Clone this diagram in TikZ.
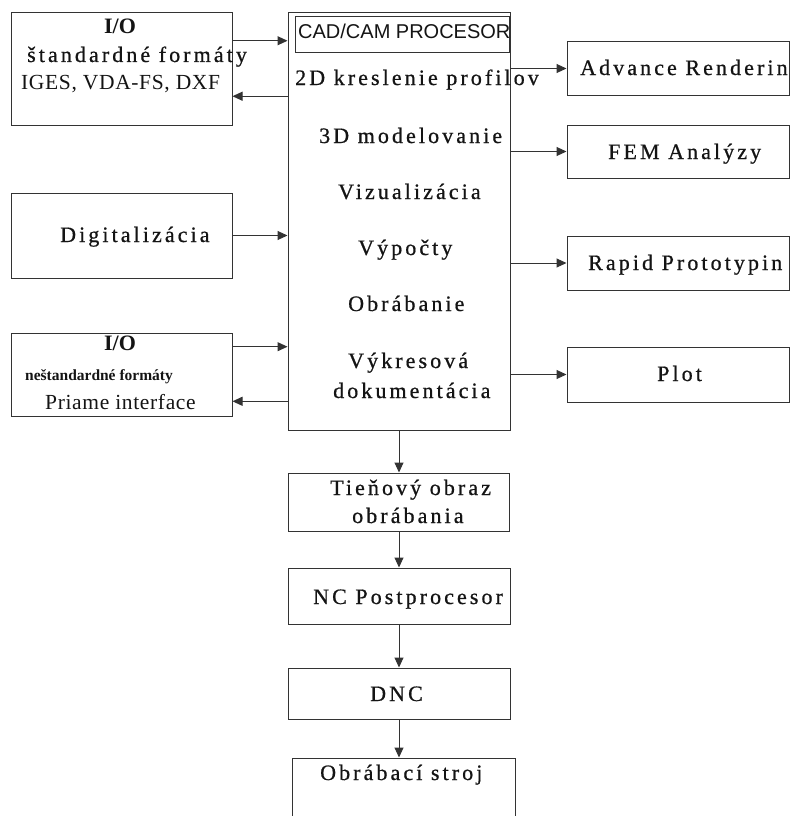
\documentclass[tikz,border=0pt]{standalone}
\usepackage{fontspec}
\setmainfont{Liberation Serif}
\newfontfamily\spc[LetterSpace=14,FakeBold=0.7]{Liberation Serif}
\newfontfamily\thn[LetterSpace=3]{Liberation Serif}
\newfontfamily\sns{Liberation Sans}
\usetikzlibrary{arrows.meta,calc}
\tikzset{
  box/.style={draw=black!80, line width=1pt, inner sep=0pt, fill=none},
  arr/.style={draw=black!80, line width=1pt, -{Triangle[length=10pt,width=9pt]}},
  lbl/.style={inner sep=0pt, text=black!92, anchor=base west, font=\spc\fontsize{22}{26}\selectfont},
  thin/.style={inner sep=0pt, text=black!92, anchor=base west, font=\thn\fontsize{21.5}{25}\selectfont},
}
\begin{document}
\begin{tikzpicture}[x=1pt,y=-1pt]
\useasboundingbox (0,0) rectangle (792,816);
\clip (0,0) rectangle (792,816);
\fill[white] (0,0) rectangle (792,816);
% boxes
\node[box, minimum width=221, minimum height=112] (io1) at (121.5,69) {};
\node[box, minimum width=221, minimum height=85] (dig) at (121.5,235.5) {};
\node[box, minimum width=221, minimum height=83] (io2) at (121.5,374.5) {};
\node[box, minimum width=222, minimum height=417] (main) at (399,221.5) {};
\node[box, minimum width=214, minimum height=36] (cad) at (402,35) {};
\node[box, minimum width=222, minimum height=53] (adv) at (678,68.5) {};
\node[box, minimum width=222, minimum height=53] (fem) at (678,151.5) {};
\node[box, minimum width=222, minimum height=54] (rap) at (678,263) {};
\node[box, minimum width=222, minimum height=55] (plot) at (678,374.5) {};
\node[box, minimum width=221, minimum height=58] (tie) at (398.5,502) {};
\node[box, minimum width=222, minimum height=56] (nc) at (399,596) {};
\node[box, minimum width=222, minimum height=51] (dnc) at (399,693.5) {};
\node[box, minimum width=223, minimum height=72] (obr) at (403.5,794) {};
% texts
\node[lbl, anchor=base, font=\bfseries\fontsize{22}{26}\selectfont] (t1) at (120,34) {I/O};
\node[lbl] (t2) at (27,62) {štandardné formáty};
\node[thin] (t3) at (21,89) {IGES, VDA-FS, DXF};
\node[lbl] (t4) at (60,242) {Digitalizácia};
\node[lbl, anchor=base, font=\bfseries\fontsize{22}{26}\selectfont] (t5) at (120,350) {I/O};
\node[lbl, font=\bfseries\fontsize{15.5}{18}\selectfont] (t6) at (25,380) {neštandardné formáty};
\node[thin] (t7) at (45,409) {Priame interface};
\node[lbl, font=\sns\fontsize{20}{24}\selectfont] (t8) at (298,39) {CAD/CAM PROCESOR};
\node[lbl] (t9) at (295,85) {2D kreslenie profilov};
\node[lbl] (t10) at (319,143) {3D modelovanie};
\node[lbl] (t11) at (338,199) {Vizualizácia};
\node[lbl] (t12) at (358,255) {Výpočty};
\node[lbl] (t13) at (348,311) {Obrábanie};
\node[lbl] (t14) at (348,368) {Výkresová};
\node[lbl] (t15) at (333,398) {dokumentácia};
\node[lbl] (t16) at (580,75) {Advance Renderin};
\node[lbl] (t17) at (608,159) {FEM Analýzy};
\node[lbl] (t18) at (588,270) {Rapid Prototypin};
\node[lbl] (t19) at (657,381) {Plot};
\node[lbl] (t20) at (330,495) {Tieňový obraz};
\node[lbl] (t21) at (352,523) {obrábania};
\node[lbl] (t22) at (313,604) {NC Postprocesor};
\node[lbl] (t23) at (370,701) {DNC};
\node[lbl] (t24) at (320,780) {Obrábací stroj};
% connectors, left side
\coordinate (a1) at ($(io1.north east)!0.25!(io1.south east)$);
\coordinate (b1) at ($(io1.north east)!0.741!(io1.south east)$);
\coordinate (a2) at ($(io2.north east)!0.169!(io2.south east)$);
\coordinate (b2) at ($(io2.north east)!0.819!(io2.south east)$);
\draw[arr] (a1) -- (a1 -| main.west);
\draw[arr] (b1 -| main.west) -- (b1);
\draw[arr] (dig.east) -- (dig.east -| main.west);
\draw[arr] (a2) -- (a2 -| main.west);
\draw[arr] (b2 -| main.west) -- (b2);
% right side
\draw[arr] (adv.west -| main.east) -- (adv.west);
\draw[arr] (fem.west -| main.east) -- (fem.west);
\draw[arr] (rap.west -| main.east) -- (rap.west);
\draw[arr] (plot.west -| main.east) -- (plot.west);
% downward chain
\draw[arr] (main.south) -- (main.south |- tie.north);
\draw[arr] (main.south |- tie.south) -- (main.south |- nc.north);
\draw[arr] (main.south |- nc.south) -- (main.south |- dnc.north);
\draw[arr] (main.south |- dnc.south) -- (main.south |- obr.north);
\end{tikzpicture}
\end{document}
